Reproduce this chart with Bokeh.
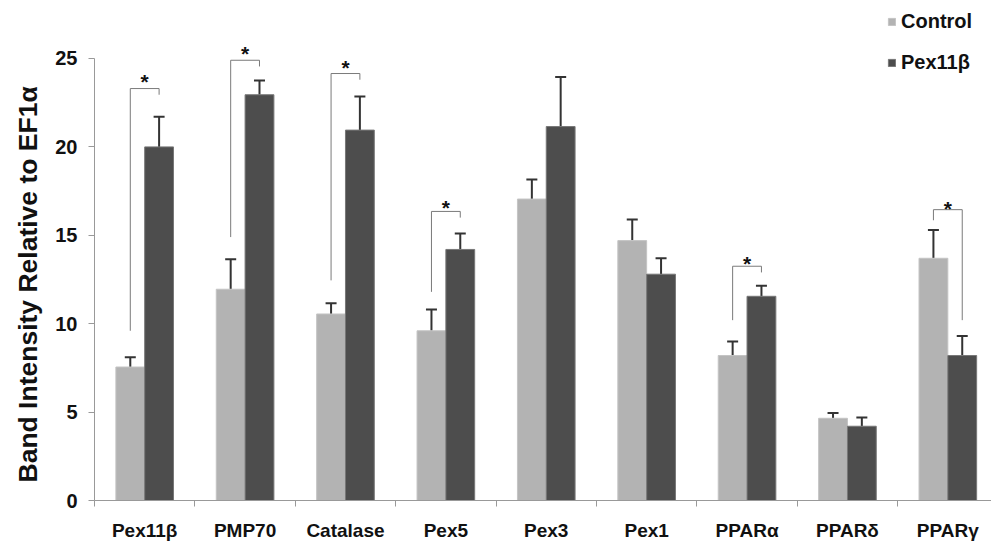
import numpy as np
from bokeh.plotting import figure
from bokeh.models import (Range1d, FixedTicker, ColumnDataSource, Whisker, TeeHead,
                          Legend, LegendItem, Title)
from bokeh.core.properties import value
from bokeh.embed import file_html
from bokeh.resources import INLINE

# ---------------- data ----------------
categories = ["Pex11β", "PMP70", "Catalase", "Pex5", "Pex3", "Pex1", "PPARα", "PPARδ", "PPARγ"]
control = [7.55, 11.95, 10.55, 9.6, 17.05, 14.7, 8.2, 4.65, 13.7]
control_err = [0.55, 1.7, 0.6, 1.2, 1.1, 1.2, 0.8, 0.3, 1.6]
pex11b = [20.0, 22.95, 20.95, 14.2, 21.15, 12.8, 11.55, 4.2, 8.2]
pex11b_err = [1.7, 0.8, 1.9, 0.9, 2.8, 0.9, 0.6, 0.5, 1.1]

# significance brackets (category index, left leg bottom, top, right leg bottom, star height)
sig_index = [0, 1, 2, 3, 6, 8]
sig_left_bottom = [9.6, 14.9, 12.45, 11.8, 10.2, 15.85]
sig_top = [23.3, 24.9, 24.15, 16.35, 13.25, 16.45]
sig_right_bottom = [22.95, 24.55, 23.8, 16.0, 12.9, 10.2]
sig_star = [24.3, 25.9, 25.1, 17.2, 14.05, 17.15]

y_ticks = [0, 5, 10, 15, 20, 25]
y_label = "Band Intensity Relative to EF1α"

# ---------------- layout ----------------
FONT = "Liberation Sans"
LIGHT = "#b3b3b3"
DARK = "#4d4d4d"
bw = 0.287

n = len(categories)
centers = np.arange(n) + 0.5
ctrl_x = centers - bw / 2
dark_x = centers + bw / 2

p = figure(width=991, height=544, output_backend="svg", toolbar_location=None,
           x_range=Range1d(0, 8.935), y_range=Range1d(0, 28.28),
           min_border_left=94, min_border_right=0, min_border_top=0, min_border_bottom=44)
p.outline_line_color = None
p.grid.grid_line_color = None
p.background_fill_color = "white"

src = ColumnDataSource(dict(
    ctrl_x=ctrl_x, dark_x=dark_x, control=control, pex11b=pex11b,
    control_top=np.array(control) + np.array(control_err),
    pex11b_top=np.array(pex11b) + np.array(pex11b_err),
))

r_ctrl = p.vbar(x="ctrl_x", top="control", width=bw, bottom=0, source=src,
                fill_color=LIGHT, line_color="#c4c4c4", line_width=1)
r_dark = p.vbar(x="dark_x", top="pex11b", width=bw, bottom=0, source=src,
                fill_color=DARK, line_color="#777777", line_width=1)

for xcol, lo, hi in [("ctrl_x", "control", "control_top"), ("dark_x", "pex11b", "pex11b_top")]:
    w = Whisker(base=xcol, lower=lo, upper=hi, source=src, dimension="height",
                line_color="#333333", line_width=2,
                upper_head=TeeHead(size=11, line_color="#333333", line_width=2),
                lower_head=None)
    p.add_layout(w)

# brackets
xs, ys = [], []
for i, lb, t, rb in zip(sig_index, sig_left_bottom, sig_top, sig_right_bottom):
    xs.append([ctrl_x[i], ctrl_x[i], dark_x[i], dark_x[i]])
    ys.append([lb, t, t, rb])
p.multi_line(xs=xs, ys=ys, line_color="#7a7a7a", line_width=1)

p.text(x=[centers[i] for i in sig_index], y=sig_star, text=["*"] * len(sig_index),
       text_font=value(FONT), text_font_style="bold", text_font_size="21px",
       text_align="center", text_baseline="alphabetic", y_offset=11, text_color="#111111")

# axes
xa = p.xaxis[0]
xa.ticker = FixedTicker(ticks=list(centers), minor_ticks=list(range(0, n + 1)))
xa.major_label_overrides = {float(c): lab for c, lab in zip(centers, categories)}
xa.major_tick_out = 0
xa.major_tick_in = 0
xa.minor_tick_out = 6
xa.minor_tick_in = 0
xa.minor_tick_line_color = "#999999"
xa.axis_line_color = "#999999"
xa.major_label_standoff = 13
xa.major_label_text_font = FONT
xa.major_label_text_font_style = "bold"
xa.major_label_text_font_size = "19px"
xa.major_label_text_color = "#111111"

ya = p.yaxis[0]
ya.ticker = FixedTicker(ticks=y_ticks, minor_ticks=[])
ya.bounds = (0, 25)
ya.major_tick_out = 6
ya.major_tick_in = 0
ya.major_tick_line_color = "#999999"
ya.axis_line_color = "#999999"
ya.major_label_standoff = 11
ya.major_label_text_font = FONT
ya.major_label_text_font_style = "bold"
ya.major_label_text_font_size = "20px"
ya.major_label_text_color = "#111111"

# y-axis title as a left-side title panel, starting near the bottom of the axis
p.add_layout(Title(text=y_label, align="left", offset=18, standoff=20,
                   text_font=FONT, text_font_style="bold", text_font_size="26.5px",
                   text_color="#111111"), "left")

legend = Legend(items=[LegendItem(label="Control", renderers=[r_ctrl]),
                       LegendItem(label="Pex11β", renderers=[r_dark])],
                location=(793, 426), glyph_width=9, glyph_height=9,
                label_height=20, spacing=18, padding=0, margin=0, label_standoff=5,
                label_text_font=FONT, label_text_font_style="bold",
                label_text_font_size="20px", label_text_color="#111111",
                border_line_color=None, background_fill_alpha=0)
p.add_layout(legend)

open("out.html", "w").write(file_html(p, INLINE))
